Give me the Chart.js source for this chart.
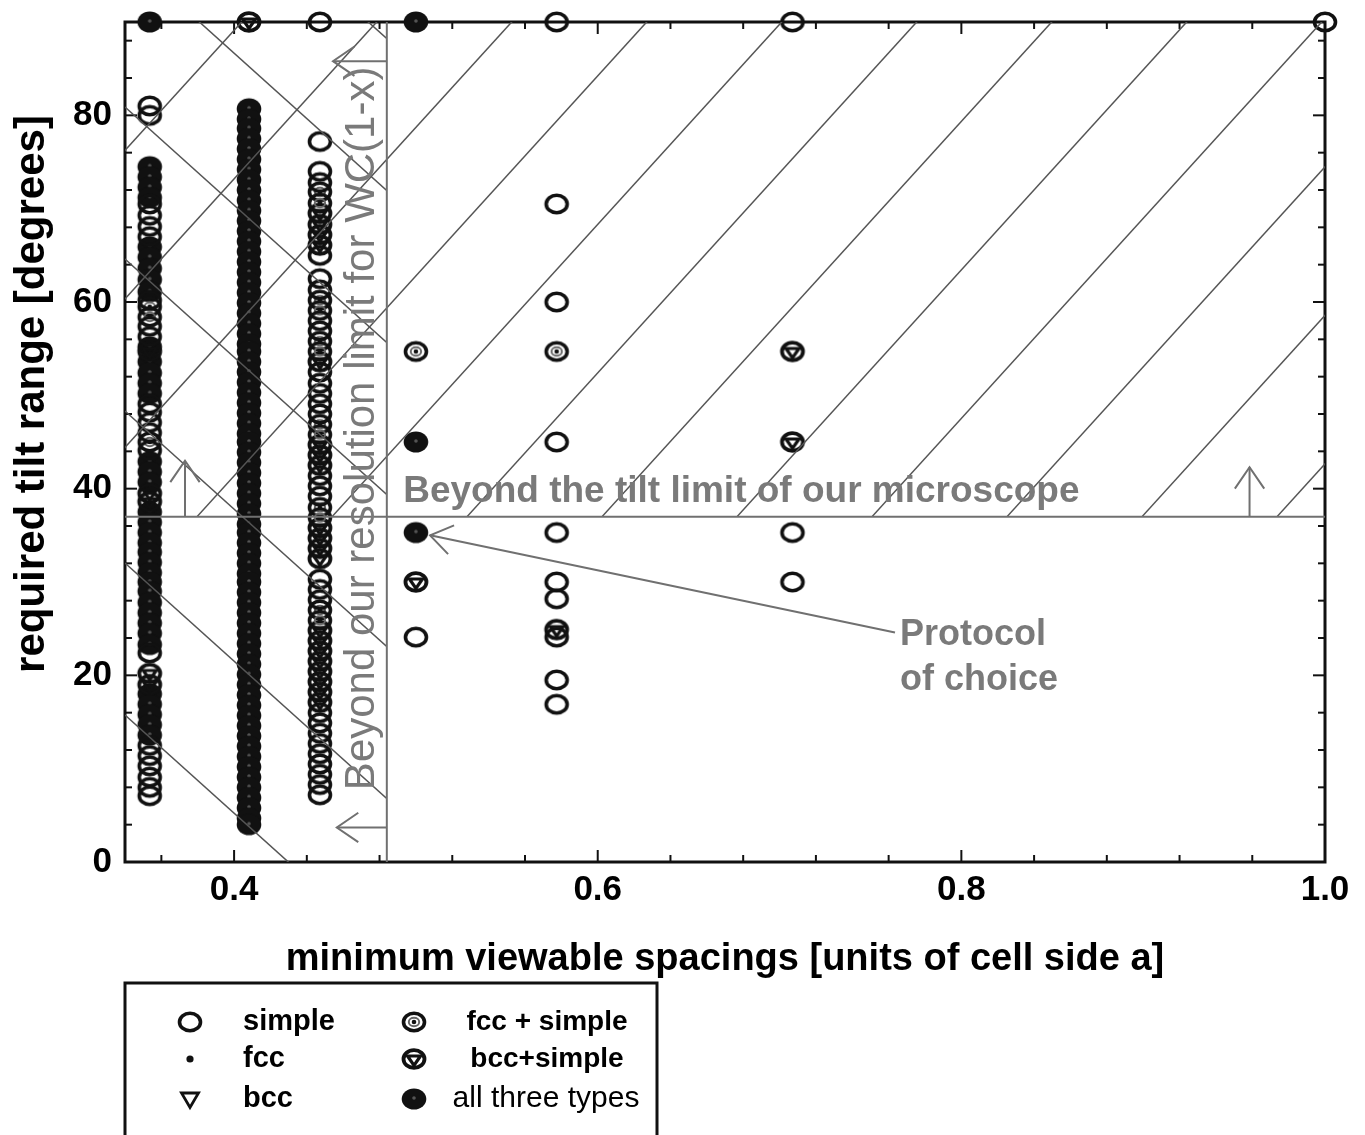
<!DOCTYPE html>
<html><head><meta charset="utf-8">
<script src="https://cdn.jsdelivr.net/npm/chart.js@4.4.1/dist/chart.umd.min.js"></script>
<style>html,body{margin:0;padding:0;background:#fff;}#wrap{position:relative;width:1365px;height:1135px;overflow:hidden;}</style>
</head><body><div id="wrap"><canvas id="c" width="1365" height="1135"></canvas></div>
<script>
// ---------- data ----------
const spacings = [0.3536, 0.4082, 0.4472, 0.5, 0.5774, 0.7071, 1.0];
const simpleTilt = [
  [81, 80, 70.5, 69.3, 68.1, 67, 60.2, 57.4, 56.3, 49.1, 48.2, 47.1, 46, 44.1, 22.4, 12.5, 11.4, 10.3, 9.1, 8, 7.1],
  [],
  [90, 77.2, 74, 72.8, 65, 62.5, 61.3, 58, 56.9, 52.5, 51.3, 50.2, 49.1, 48, 41.4, 40.3, 39.2, 30.3, 29.2, 28.1, 16, 14.9, 13.8, 12.7, 11.6, 10.5, 9.4, 8.3, 7.2],
  [24.1],
  [90, 70.5, 60, 45, 35.3, 30, 28.2, 24.1, 19.5, 16.9],
  [90, 35.3, 30],
  [90]
];
const fccTilt = [[], [], [], [], [], [], []];
const bccTilt = [[], [], [], [], [], [], []];
const fccSimpleTilt = [
  [59.5, 58.4, 45],
  [],
  [71.8, 70.6, 60.2, 59.1, 55.8, 54.7, 46.9, 45.8, 38, 36.9, 27, 25.9],
  [54.7],
  [54.7],
  [],
  []
];
const bccSimpleTilt = [
  [54.7, 39.5, 38.6, 20.2, 19],
  [90],
  [69.5, 68.3, 67.2, 66.1, 53.6, 44.7, 43.6, 42.5, 35.8, 34.7, 33.6, 32.5, 24.8, 23.7, 22.6, 21.5, 20.4, 19.3, 18.2, 17.1],
  [30],
  [24.9],
  [54.7, 45],
  []
];
const allThreeTilt = [
  [90, 74.5, 73.4, 72.3, 71.2, 65.9, 64.8, 63.6, 62.4, 61.1, 55.2, 53.6, 52.4, 51.3, 50.2, 42.9, 41.8, 40.7, 37.5, 36.4, 35.3, 34.2, 33.2, 32.1, 31, 30, 29, 27.8, 26.7, 25.6, 24.5, 23.3, 18, 16.9, 15.8, 14.7, 13.6],
  [80.7, 79.6, 78.6, 77.5, 76.4, 75.3, 74.2, 73.1, 72, 70.9, 69.8, 68.7, 67.6, 66.5, 65.4, 64.3, 63.2, 62.1, 61, 59.9, 58.8, 57.7, 56.6, 55.5, 54.7, 53.6, 52.5, 51.4, 50.3, 49.2, 48.1, 47, 45.9, 45, 43.9, 42.8, 41.7, 40.6, 39.5, 38.4, 37.3, 36.2, 35.3, 34.2, 33.1, 32, 30.9, 30, 28.9, 27.8, 26.7, 25.6, 24.5, 23.4, 22.3, 21.2, 20.1, 19, 17.9, 16.8, 15.7, 14.6, 13.5, 12.4, 11.3, 10.2, 9.1, 8, 6.9, 5.8, 4.7, 4.0],
  [],
  [90, 45, 35.3],
  [],
  [],
  []
];
const xMajorTicks = [0.4, 0.6, 0.8, 1.0];
const xMinorTicks = [0.36, 0.44, 0.48, 0.52, 0.56, 0.64, 0.68, 0.72, 0.76, 0.84, 0.88, 0.92, 0.96];
const yMajorTicks = [0, 20, 40, 60, 80];
const yMinorTicks = [4, 8, 12, 16, 24, 28, 32, 36, 44, 48, 52, 56, 64, 68, 72, 76, 84, 88];
const resolutionLimit = 0.484;
const tiltLimit = 37;
// annotation arrows [x1, y1, x2(tip), y2(tip)] in data units
const limitArrows = [
  [0.484, 85.8, 0.4544, 85.8],
  [0.484, 3.7, 0.4565, 3.7],
  [0.373, 37, 0.373, 43],
  [0.9585, 37, 0.9585, 42.3],
  [0.7635, 24.6, 0.5078, 35.0]
];
const legendLabels = ['simple', 'fcc', 'bcc', 'fcc + simple', 'bcc+simple', 'all three types'];

// ---------- styling ----------
const FONT = "'Liberation Sans', Arial, sans-serif";
const GRAY = '#7a7a7a';

function makeMarker(type) {
  const c = document.createElement('canvas');
  c.width = 30; c.height = 30;
  const g = c.getContext('2d');
  const cx = 15, cy = 15;
  g.strokeStyle = '#111'; g.fillStyle = '#111';
  const ring = (lw) => { g.lineWidth = lw; g.beginPath(); g.ellipse(cx, cy, 10.5, 8.8, 0, 0, Math.PI * 2); g.stroke(); };
  if (type === 'simple') ring(3.6);
  else if (type === 'fcc') { g.beginPath(); g.arc(cx, cy, 3.6, 0, Math.PI * 2); g.fill(); }
  else if (type === 'bcc') {
    g.lineWidth = 2.8; g.beginPath(); g.moveTo(cx - 8.5, cy - 6); g.lineTo(cx + 8.5, cy - 6); g.lineTo(cx, cy + 8.5); g.closePath(); g.stroke();
  } else if (type === 'fccSimple') {
    ring(3.6);
    g.strokeStyle = '#666'; g.lineWidth = 2; g.beginPath(); g.ellipse(cx, cy, 5.2, 4.2, 0, 0, Math.PI * 2); g.stroke();
    g.fillStyle = '#111'; g.beginPath(); g.arc(cx, cy, 2.3, 0, Math.PI * 2); g.fill();
  } else if (type === 'bccSimple') {
    ring(3.8);
    g.lineWidth = 3.2; g.beginPath(); g.moveTo(cx - 6.5, cy - 3); g.lineTo(cx + 6.5, cy - 3); g.lineTo(cx, cy + 6.5); g.closePath(); g.stroke();
  } else if (type === 'all') {
    g.beginPath(); g.ellipse(cx, cy, 12.3, 10.6, 0, 0, Math.PI * 2); g.fill();
    g.fillStyle = '#555'; g.beginPath(); g.arc(cx, cy - 1, 1.8, 0, Math.PI * 2); g.fill();
  }
  return c;
}
const markers = {
  simple: makeMarker('simple'), fcc: makeMarker('fcc'), bcc: makeMarker('bcc'),
  fccSimple: makeMarker('fccSimple'), bccSimple: makeMarker('bccSimple'), all: makeMarker('all')
};

function toPoints(cols) {
  const pts = [];
  cols.forEach((ys, i) => ys.forEach(y => pts.push({ x: spacings[i], y: y })));
  return pts;
}
function ds(label, cols, key) {
  return { label: label, data: toPoints(cols), pointStyle: markers[key], pointRadius: 10, clip: false, showLine: false };
}
const datasets = [
  ds('simple', simpleTilt, 'simple'),
  ds('fcc', fccTilt, 'fcc'),
  ds('bcc', bccTilt, 'bcc'),
  ds('fcc + simple', fccSimpleTilt, 'fccSimple'),
  ds('bcc+simple', bccSimpleTilt, 'bccSimple'),
  ds('all three types', allThreeTilt, 'all')
];

// ---------- plugins ----------
const framePlugin = {
  id: 'frame',
  beforeDatasetsDraw(chart) {
    const { ctx, chartArea: a, scales: { x, y } } = chart;
    ctx.save();
    ctx.strokeStyle = '#111'; ctx.lineWidth = 2;
    const tick = (px, py, dx, dy) => { ctx.beginPath(); ctx.moveTo(px, py); ctx.lineTo(px + dx, py + dy); ctx.stroke(); };
    xMajorTicks.forEach(v => { const p = x.getPixelForValue(v); tick(p, a.bottom, 0, -12); tick(p, a.top, 0, 12); });
    xMinorTicks.forEach(v => { const p = x.getPixelForValue(v); tick(p, a.bottom, 0, -7); tick(p, a.top, 0, 7); });
    yMajorTicks.forEach(v => { const p = y.getPixelForValue(v); tick(a.left, p, 12, 0); tick(a.right, p, -12, 0); });
    yMinorTicks.forEach(v => { const p = y.getPixelForValue(v); tick(a.left, p, 7, 0); tick(a.right, p, -7, 0); });
    ctx.lineWidth = 3;
    ctx.strokeRect(a.left, a.top, a.right - a.left, a.bottom - a.top);
    ctx.restore();
  }
};

function arrowHead(ctx, x1, y1, x2, y2, len) {
  const ang = Math.atan2(y2 - y1, x2 - x1);
  const s = 0.6;
  ctx.beginPath();
  ctx.moveTo(x2 - len * Math.cos(ang - s), y2 - len * Math.sin(ang - s));
  ctx.lineTo(x2, y2);
  ctx.lineTo(x2 - len * Math.cos(ang + s), y2 - len * Math.sin(ang + s));
  ctx.stroke();
}

const overlayPlugin = {
  id: 'overlay',
  afterDatasetsDraw(chart) {
    const { ctx, chartArea: a, scales: { x, y } } = chart;
    const xr = x.getPixelForValue(resolutionLimit);
    const yt = y.getPixelForValue(tiltLimit);
    ctx.save();
    // hatch: beyond tilt limit (positive slope)
    ctx.strokeStyle = '#555'; ctx.lineWidth = 1.5;
    ctx.save();
    ctx.beginPath(); ctx.rect(a.left, a.top, a.right - a.left, yt - a.top); ctx.clip();
    const slopeP = 1.1, spP = 135, phP = 72;
    for (let k = -6; k < 16; k++) {
      const x0 = a.left + phP + k * spP;
      ctx.beginPath(); ctx.moveTo(x0, yt); ctx.lineTo(x0 + (yt - a.top + 20) / slopeP, a.top - 20); ctx.stroke();
    }
    ctx.restore();
    // hatch: beyond resolution limit (negative slope)
    ctx.save();
    ctx.beginPath(); ctx.rect(a.left, a.top, xr - a.left, a.bottom - a.top); ctx.clip();
    const slopeN = 0.9, spN = 152, phN = -67;
    for (let k = -4; k < 10; k++) {
      const y0 = a.top + phN + k * spN;
      ctx.beginPath(); ctx.moveTo(a.left, y0); ctx.lineTo(xr + 10, y0 + slopeN * (xr + 10 - a.left)); ctx.stroke();
    }
    ctx.restore();
    // limit lines
    ctx.strokeStyle = '#707070'; ctx.lineWidth = 2;
    ctx.beginPath(); ctx.moveTo(xr, a.top); ctx.lineTo(xr, a.bottom); ctx.stroke();
    ctx.beginPath(); ctx.moveTo(a.left, yt); ctx.lineTo(a.right, yt); ctx.stroke();
    // arrows
    limitArrows.forEach(([x1, y1, x2, y2]) => {
      const p1x = x.getPixelForValue(x1), p1y = y.getPixelForValue(y1);
      const p2x = x.getPixelForValue(x2), p2y = y.getPixelForValue(y2);
      ctx.beginPath(); ctx.moveTo(p1x, p1y); ctx.lineTo(p2x, p2y); ctx.stroke();
      arrowHead(ctx, p1x, p1y, p2x, p2y, 26);
    });
    // texts
    ctx.fillStyle = GRAY;
    ctx.font = 'bold 37px ' + FONT;
    ctx.textAlign = 'left'; ctx.textBaseline = 'alphabetic';
    ctx.fillText('Beyond the tilt limit of our microscope', x.getPixelForValue(0.493), y.getPixelForValue(38.6));
    ctx.font = 'bold 36px ' + FONT;
    ctx.textBaseline = 'middle';
    ctx.fillText('Protocol', x.getPixelForValue(0.7663), y.getPixelForValue(24.3));
    ctx.fillText('of choice', x.getPixelForValue(0.7663), y.getPixelForValue(19.5));
    ctx.save();
    ctx.translate(x.getPixelForValue(0.4704), y.getPixelForValue(7.7));
    ctx.rotate(-Math.PI / 2);
    ctx.font = '42px ' + FONT;
    ctx.textAlign = 'left'; ctx.textBaseline = 'middle';
    ctx.fillText('Beyond our resolution limit for WC(1-x)', 0, 0);
    ctx.restore();
    ctx.restore();
  },
  afterDraw(chart) {
    const { ctx } = chart;
    ctx.save();
    // y axis title
    ctx.translate(32, 394);
    ctx.rotate(-Math.PI / 2);
    ctx.fillStyle = '#000';
    ctx.font = 'bold 42px ' + FONT;
    ctx.textAlign = 'center'; ctx.textBaseline = 'middle';
    ctx.fillText('required tilt range [degrees]', 0, 0);
    ctx.restore();
    // legend
    ctx.save();
    ctx.strokeStyle = '#111'; ctx.lineWidth = 3;
    ctx.strokeRect(125, 983, 532, 170);
    const keys = ['simple', 'fcc', 'bcc', 'fccSimple', 'bccSimple', 'all'];
    const rows = [1022, 1059, 1099];
    keys.forEach((k, i) => {
      const col = i < 3 ? 0 : 1, row = i % 3;
      const mx = col === 0 ? 190 : 414;
      const m = markers[k];
      ctx.drawImage(m, mx - m.width / 2, rows[row] - m.height / 2);
      ctx.fillStyle = '#000';
      ctx.textBaseline = 'middle';
      if (col === 0) {
        ctx.textAlign = 'left'; ctx.font = 'bold 29px ' + FONT;
        ctx.fillText(legendLabels[i], 243, rows[row]);
      } else if (k !== 'all') {
        ctx.textAlign = 'center'; ctx.font = 'bold 28px ' + FONT;
        ctx.fillText(legendLabels[i], 547, rows[row]);
      } else {
        ctx.textAlign = 'center'; ctx.font = '30px ' + FONT;
        ctx.fillText(legendLabels[i], 546, rows[row]);
      }
    });
    ctx.restore();
  }
};

new Chart(document.getElementById('c').getContext('2d'), {
  type: 'scatter',
  data: { datasets: datasets },
  options: {
    responsive: false,
    animation: false,
    events: [],
    layout: { autoPadding: false, padding: { top: 22, right: 40, bottom: 0, left: 0 } },
    plugins: { legend: { display: false }, tooltip: { enabled: false } },
    scales: {
      x: {
        type: 'linear', min: 0.34, max: 1.0,
        grid: { display: false, drawTicks: false }, border: { display: false },
        afterBuildTicks: s => { s.ticks = xMajorTicks.map(v => ({ value: v })); },
        afterFit: s => { s.height = 273; s.paddingLeft = 0; s.paddingRight = 0; },
        ticks: { padding: 7, color: '#000', autoSkip: false, maxRotation: 0, font: { family: FONT, size: 35, weight: 'bold' }, callback: v => Number(v).toFixed(1) },
        title: { display: true, text: 'minimum viewable spacings [units of cell side a]', color: '#000', font: { family: FONT, size: 38, weight: 'bold' }, padding: { top: 0, bottom: 153 } }
      },
      y: {
        type: 'linear', min: 0, max: 90,
        grid: { display: false, drawTicks: false }, border: { display: false },
        afterBuildTicks: s => { s.ticks = yMajorTicks.map(v => ({ value: v })); },
        afterFit: s => { s.width = 125; s.paddingTop = 0; s.paddingBottom = 0; },
        ticks: { padding: 13, color: '#000', autoSkip: false, font: { family: FONT, size: 35, weight: 'bold' }, callback: v => String(v) },
        title: { display: false }
      }
    }
  },
  plugins: [framePlugin, overlayPlugin]
});
</script>
</body></html>
